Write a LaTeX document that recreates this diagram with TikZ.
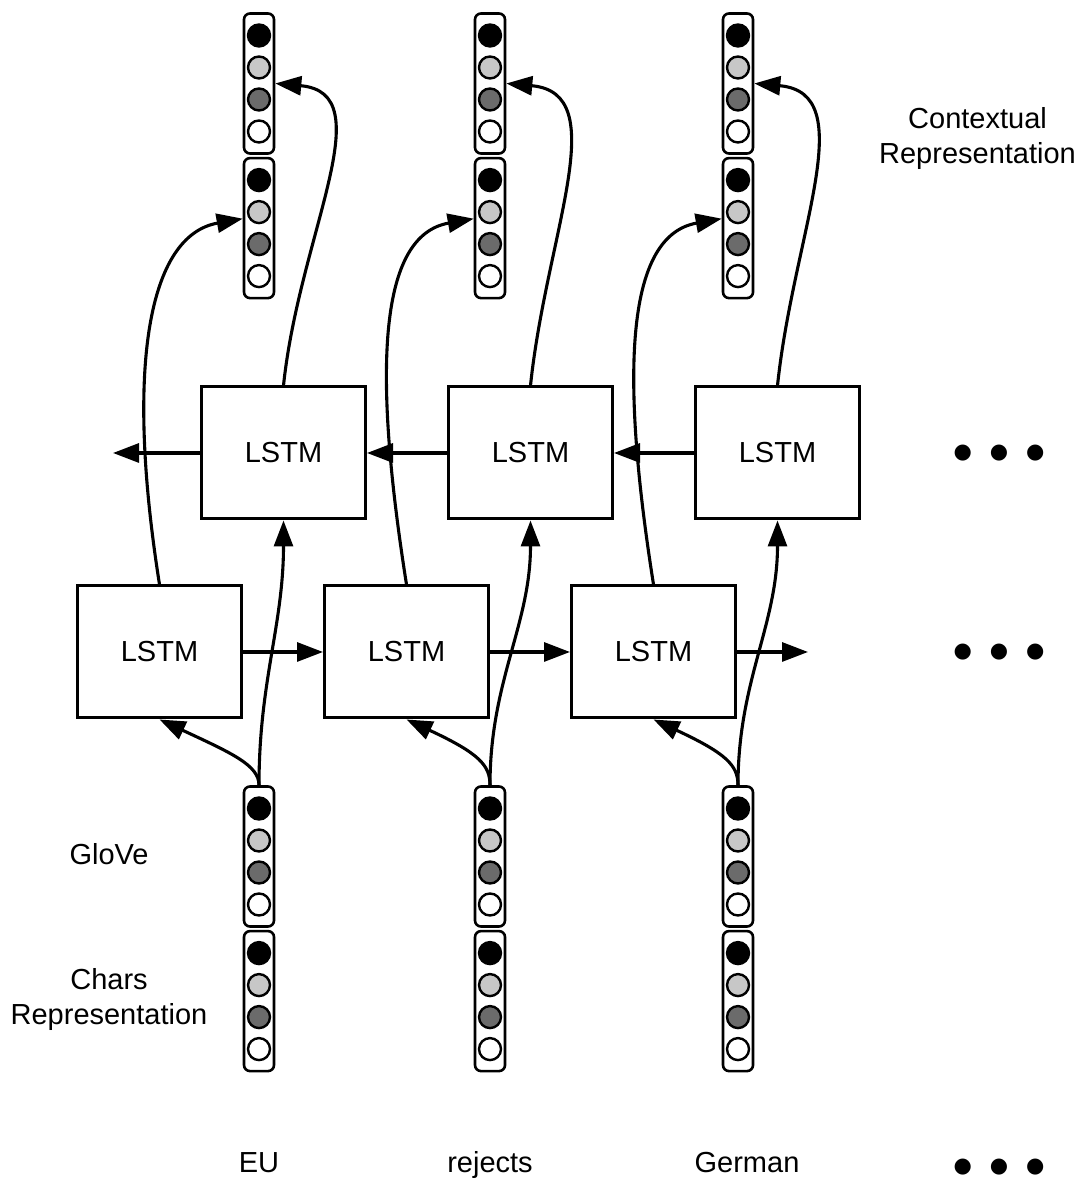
\documentclass[tikz,border=0pt]{standalone}
\usepackage{fontspec}
\setmainfont{Liberation Sans}
\newfontfamily\dotfont{DejaVu Sans}
\usetikzlibrary{arrows.meta,positioning}
\definecolor{lightdot}{gray}{0.78}
\definecolor{darkdot}{gray}{0.42}

\begin{document}
\begin{tikzpicture}[x=0.5pt, y=0.5pt, style={
    lstmstyle/.style={
      draw, line width=1.5pt,
      minimum width=82pt, minimum height=66pt,
      font=\fontsize{14.5}{17.4}\selectfont,
    },
    vecstyle/.style={
      draw, line width=1.3pt, rounded corners=3pt,
      minimum width=15pt, minimum height=70pt,
      inner sep=0pt,
    },
    dotstyle/.style={
      circle, draw, line width=1.2pt,
      minimum size=11pt, inner sep=0pt,
    },
    labelstyle/.style={
      align=center,
      font=\fontsize{14.5}{17.5}\selectfont,
    },
    morestyle/.style={
      inner sep=0pt,
      font=\dotfont\fontsize{10.5}{12}\selectfont,
    },
    myarrow/.style={-{Triangle[length=13pt, width=9.5pt]}, line width=1.55pt}
  }]
  \useasboundingbox (0,0) rectangle (1087,1182);

  % word vectors at the bottom
  \node[vecstyle] (glove-1) at (259, 325.5) {};
  \node[vecstyle, below=1pt of glove-1] (chars-1) {};
  \node[vecstyle] (glove-2) at (490, 325.5) {};
  \node[vecstyle, below=1pt of glove-2] (chars-2) {};
  \node[vecstyle] (glove-3) at (738, 325.5) {};
  \node[vecstyle, below=1pt of glove-3] (chars-3) {};

  % contextual vectors at the top
  \node[vecstyle] (ctxa-1) at (259, 1098.5) {};
  \node[vecstyle, below=1pt of ctxa-1] (ctxb-1) {};
  \node[vecstyle] (ctxa-2) at (490, 1098.5) {};
  \node[vecstyle, below=1pt of ctxa-2] (ctxb-2) {};
  \node[vecstyle] (ctxa-3) at (738, 1098.5) {};
  \node[vecstyle, below=1pt of ctxa-3] (ctxb-3) {};

  \foreach \v in {glove-1, chars-1, glove-2, chars-2, glove-3, chars-3,
                  ctxa-1, ctxb-1, ctxa-2, ctxb-2, ctxa-3, ctxb-3} {
    \foreach \c [count=\k, evaluate=\k as \off using (2.5-\k)*16] in
        {black, lightdot, darkdot, white} {
      \node[dotstyle, fill=\c, yshift=\off pt] (\v-\k) at (\v.center) {};
    }
  }

  % the two LSTM layers
  \node[lstmstyle] (fwd-1) at (159.5, 530) {LSTM};
  \node[lstmstyle, right=40pt of fwd-1] (fwd-2) {LSTM};
  \node[lstmstyle, right=40pt of fwd-2] (fwd-3) {LSTM};
  \node[lstmstyle] (bwd-1) at (283.5, 729) {LSTM};
  \node[lstmstyle, right=40pt of bwd-1] (bwd-2) {LSTM};
  \node[lstmstyle, right=40pt of bwd-2] (bwd-3) {LSTM};
  \coordinate (fwd-end) at (808, 530);
  \coordinate (bwd-end) at (113, 729);

  \draw[myarrow] (fwd-1) -- (fwd-2);
  \draw[myarrow] (fwd-2) -- (fwd-3);
  \draw[myarrow] (fwd-3) -- (fwd-end);
  \draw[myarrow] (bwd-3) -- (bwd-2);
  \draw[myarrow] (bwd-2) -- (bwd-1);
  \draw[myarrow] (bwd-1) -- (bwd-end);

  \foreach \i in {1,2,3} {
    \draw[myarrow] (glove-\i.north)
      to[out=90, in=-25, out distance=10pt, in distance=40pt] (fwd-\i.south);
    \draw[myarrow] (glove-\i.north) to[out=90, in=-90] (bwd-\i.south);
    \draw[myarrow] (fwd-\i.north)
      to[out=99, in=190, out distance=110pt, in distance=48pt] (ctxb-\i.150);
    \draw[myarrow] (bwd-\i.north)
      to[out=84, in=-5, out distance=77pt, in distance=54pt] (ctxa-\i.east);
  }

  % labels
  \node[labelstyle] (ctxlabel) at (977.5, 1043) {Contextual\\Representation};
  \node[labelstyle] (glovelabel) at (109, 328) {GloVe};
  \node[labelstyle] (charslabel) at (109, 182) {Chars\\Representation};
  \node[labelstyle, anchor=base] (word-1) at (259, 10) {EU};
  \node[labelstyle, anchor=base] (word-2) at (490, 10) {rejects};
  \node[labelstyle, anchor=base] (word-3) at (747, 10) {German};
  \node[morestyle] (more-1) at (999, 729) {●\hspace{9pt}●\hspace{9pt}●};
  \node[morestyle] (more-2) at (999, 530) {●\hspace{9pt}●\hspace{9pt}●};
  \node[morestyle] (more-3) at (999, 15) {●\hspace{9pt}●\hspace{9pt}●};
\end{tikzpicture}
\end{document}
